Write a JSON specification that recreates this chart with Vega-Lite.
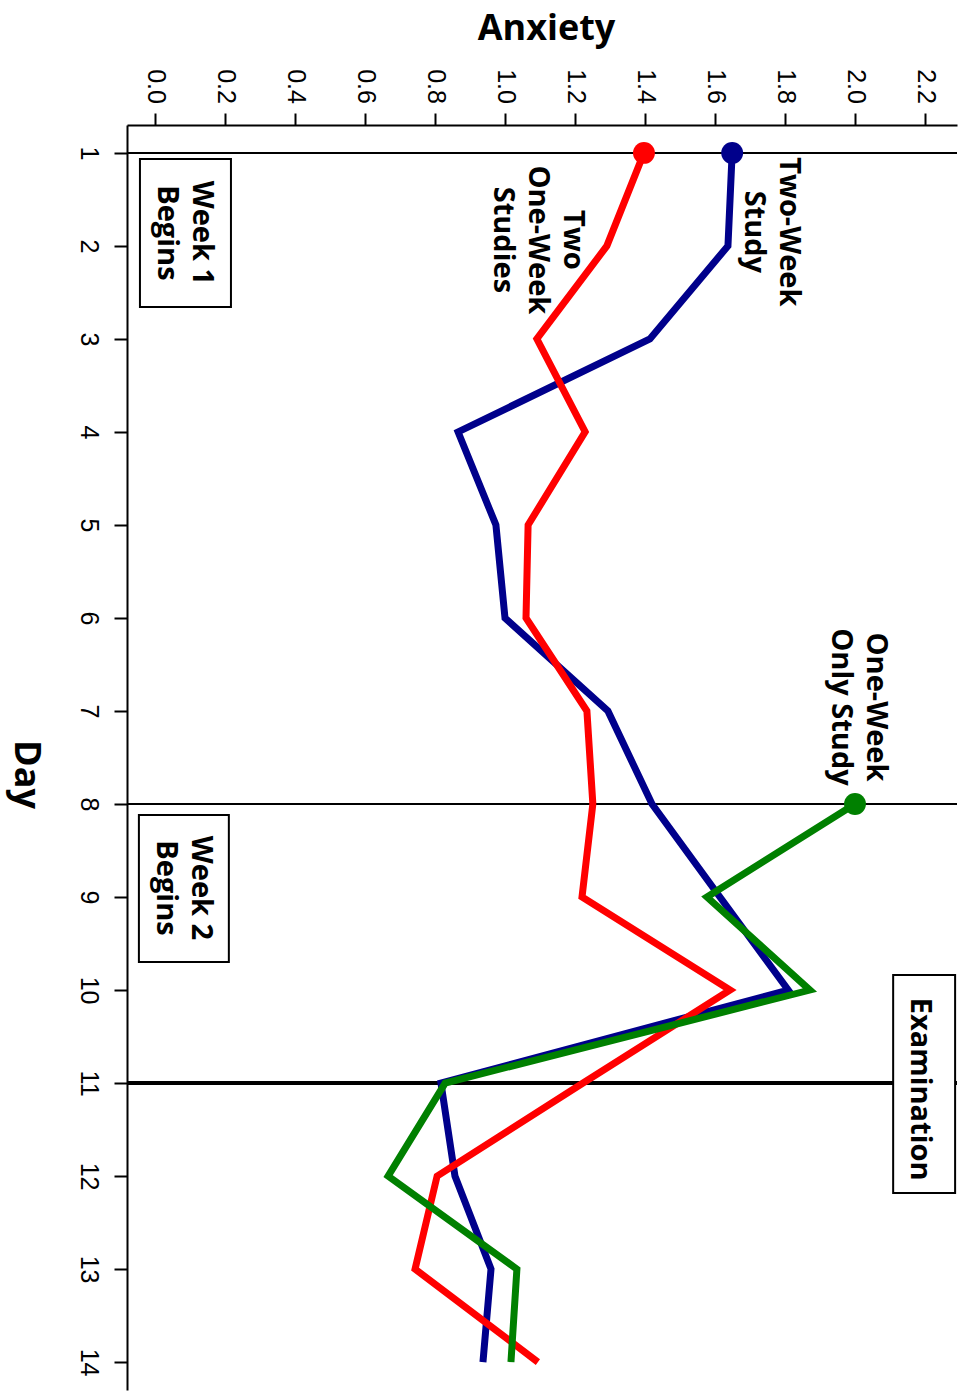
{
  "$schema": "https://vega.github.io/schema/vega-lite/v6.json",
  "width": 830,
  "height": 1265,
  "autosize": {"type": "none"},
  "padding": {"left": 127, "top": 125, "right": 2, "bottom": 5},
  "background": "white",
  "config": {
    "view": {"stroke": null},
    "axis": {
      "grid": false,
      "labelAngle": 90, "labelAlign": "center", "labelBaseline": "middle",
      "labelFont": "Liberation Sans", "labelFontSize": 25, "labelColor": "black",
      "labelOverlap": false, "labelFlush": false, "labelBound": false,
      "tickWidth": 2, "tickColor": "black",
      "domainColor": "black", "domainWidth": 2,
      "titleFont": "Open Sans", "titleFontSize": 36, "titleFontWeight": "bold", "titleColor": "black",
      "titleAlign": "center", "titleBaseline": "alphabetic"
    },
    "axisX": {"labelPadding": 27, "tickSize": 12, "titleAngle": 0, "titleX": 419, "titleY": -86},
    "axisY": {"labelPadding": 26, "tickSize": 13, "titleAngle": 90, "titleX": -113, "titleY": 649}
  },
  "datasets": {
    "series": [
      {"series": "Two-Week Study", "day": 1, "anxiety": 1.649},
      {"series": "Two-Week Study", "day": 2, "anxiety": 1.637},
      {"series": "Two-Week Study", "day": 3, "anxiety": 1.414},
      {"series": "Two-Week Study", "day": 4, "anxiety": 0.866},
      {"series": "Two-Week Study", "day": 5, "anxiety": 0.974},
      {"series": "Two-Week Study", "day": 6, "anxiety": 1.0},
      {"series": "Two-Week Study", "day": 7, "anxiety": 1.294},
      {"series": "Two-Week Study", "day": 8, "anxiety": 1.42},
      {"series": "Two-Week Study", "day": 9, "anxiety": 1.614},
      {"series": "Two-Week Study", "day": 10, "anxiety": 1.809},
      {"series": "Two-Week Study", "day": 11, "anxiety": 0.817},
      {"series": "Two-Week Study", "day": 12, "anxiety": 0.857},
      {"series": "Two-Week Study", "day": 13, "anxiety": 0.96},
      {"series": "Two-Week Study", "day": 14, "anxiety": 0.937},
      {"series": "Two One-Week Studies", "day": 1, "anxiety": 1.397},
      {"series": "Two One-Week Studies", "day": 2, "anxiety": 1.291},
      {"series": "Two One-Week Studies", "day": 3, "anxiety": 1.091},
      {"series": "Two One-Week Studies", "day": 4, "anxiety": 1.229},
      {"series": "Two One-Week Studies", "day": 5, "anxiety": 1.066},
      {"series": "Two One-Week Studies", "day": 6, "anxiety": 1.06},
      {"series": "Two One-Week Studies", "day": 7, "anxiety": 1.234},
      {"series": "Two One-Week Studies", "day": 8, "anxiety": 1.251},
      {"series": "Two One-Week Studies", "day": 9, "anxiety": 1.22},
      {"series": "Two One-Week Studies", "day": 10, "anxiety": 1.643},
      {"series": "Two One-Week Studies", "day": 11, "anxiety": 1.223},
      {"series": "Two One-Week Studies", "day": 12, "anxiety": 0.806},
      {"series": "Two One-Week Studies", "day": 13, "anxiety": 0.743},
      {"series": "Two One-Week Studies", "day": 14, "anxiety": 1.094},
      {"series": "One-Week Only Study", "day": 8, "anxiety": 2.0},
      {"series": "One-Week Only Study", "day": 9, "anxiety": 1.577},
      {"series": "One-Week Only Study", "day": 10, "anxiety": 1.871},
      {"series": "One-Week Only Study", "day": 11, "anxiety": 0.829},
      {"series": "One-Week Only Study", "day": 12, "anxiety": 0.666},
      {"series": "One-Week Only Study", "day": 13, "anxiety": 1.034},
      {"series": "One-Week Only Study", "day": 14, "anxiety": 1.017}
    ],
    "refs": [
      {"day": 1, "kind": "week"},
      {"day": 8, "kind": "week"},
      {"day": 11, "kind": "exam"}
    ],
    "boxes": [
      {"box": "Week 1", "anxiety": -0.043, "anxiety2": 0.217, "day": 1.065, "day2": 2.656},
      {"box": "Week 2", "anxiety": -0.046, "anxiety2": 0.211, "day": 8.118, "day2": 9.699},
      {"box": "Examination", "anxiety": 2.109, "anxiety2": 2.286, "day": 9.839, "day2": 12.183}
    ],
    "annot": [
      {"label": "Week 1\nBegins", "anxiety": 0.134, "day": 1.86},
      {"label": "Week 2\nBegins", "anxiety": 0.131, "day": 8.903},
      {"label": "Two-Week\nStudy", "anxiety": 1.811, "day": 1.849},
      {"label": "Two\nOne-Week\nStudies", "anxiety": 1.194, "day": 1.935},
      {"label": "One-Week\nOnly Study", "anxiety": 2.06, "day": 6.957},
      {"label": "Examination", "anxiety": 2.186, "day": 11.065}
    ]
  },
  "layer": [
    {
      "data": {"name": "refs"},
      "transform": [{"filter": "datum.kind === 'week'"}],
      "mark": {"type": "rule", "color": "black", "strokeWidth": 2},
      "encoding": {
        "y": {"field": "day", "type": "quantitative", "scale": {"domain": [0.7, 14.3], "nice": false, "zero": false, "reverse": true}, "axis": {"orient": "left", "title": "Day", "values": [1, 2, 3, 4, 5, 6, 7, 8, 9, 10, 11, 12, 13, 14], "format": "d"}}
      }
    },
    {
      "data": {"name": "refs"},
      "transform": [{"filter": "datum.kind === 'exam'"}],
      "mark": {"type": "rule", "color": "black", "strokeWidth": 4},
      "encoding": {
        "y": {"field": "day", "type": "quantitative", "scale": {"domain": [0.7, 14.3], "nice": false, "zero": false, "reverse": true}, "axis": {"orient": "left", "title": "Day", "values": [1, 2, 3, 4, 5, 6, 7, 8, 9, 10, 11, 12, 13, 14], "format": "d"}}
      }
    },
    {
      "data": {"name": "boxes"},
      "mark": {"type": "rect", "fill": "white", "stroke": "black", "strokeWidth": 2},
      "encoding": {
        "x": {"field": "anxiety", "type": "quantitative", "scale": {"domain": [-0.08, 2.2914], "nice": false, "zero": false}, "axis": {"orient": "top", "title": "Anxiety", "values": [0, 0.2, 0.4, 0.6, 0.8, 1, 1.2, 1.4, 1.6, 1.8, 2, 2.2], "format": ".1f"}},
        "x2": {"field": "anxiety2"},
        "y": {"field": "day", "type": "quantitative", "scale": {"domain": [0.7, 14.3], "nice": false, "zero": false, "reverse": true}, "axis": {"orient": "left", "title": "Day", "values": [1, 2, 3, 4, 5, 6, 7, 8, 9, 10, 11, 12, 13, 14], "format": "d"}},
        "y2": {"field": "day2"}
      }
    },
    {
      "data": {"name": "series"},
      "transform": [{"filter": "datum.series === 'Two-Week Study'"}],
      "mark": {"type": "line", "strokeWidth": 7, "strokeJoin": "miter", "color": "#00008B"},
      "encoding": {
        "x": {"field": "anxiety", "type": "quantitative", "scale": {"domain": [-0.08, 2.2914], "nice": false, "zero": false}, "axis": {"orient": "top", "title": "Anxiety", "values": [0, 0.2, 0.4, 0.6, 0.8, 1, 1.2, 1.4, 1.6, 1.8, 2, 2.2], "format": ".1f"}},
        "y": {"field": "day", "type": "quantitative", "scale": {"domain": [0.7, 14.3], "nice": false, "zero": false, "reverse": true}, "axis": {"orient": "left", "title": "Day", "values": [1, 2, 3, 4, 5, 6, 7, 8, 9, 10, 11, 12, 13, 14], "format": "d"}},
        "order": {"field": "day"}
      }
    },
    {
      "data": {"name": "series"},
      "transform": [{"filter": "datum.series === 'Two One-Week Studies'"}],
      "mark": {"type": "line", "strokeWidth": 7, "strokeJoin": "miter", "color": "#FF0000"},
      "encoding": {
        "x": {"field": "anxiety", "type": "quantitative", "scale": {"domain": [-0.08, 2.2914], "nice": false, "zero": false}, "axis": {"orient": "top", "title": "Anxiety", "values": [0, 0.2, 0.4, 0.6, 0.8, 1, 1.2, 1.4, 1.6, 1.8, 2, 2.2], "format": ".1f"}},
        "y": {"field": "day", "type": "quantitative", "scale": {"domain": [0.7, 14.3], "nice": false, "zero": false, "reverse": true}, "axis": {"orient": "left", "title": "Day", "values": [1, 2, 3, 4, 5, 6, 7, 8, 9, 10, 11, 12, 13, 14], "format": "d"}},
        "order": {"field": "day"}
      }
    },
    {
      "data": {"name": "series"},
      "transform": [{"filter": "datum.series === 'One-Week Only Study'"}],
      "mark": {"type": "line", "strokeWidth": 7, "strokeJoin": "miter", "color": "#008000"},
      "encoding": {
        "x": {"field": "anxiety", "type": "quantitative", "scale": {"domain": [-0.08, 2.2914], "nice": false, "zero": false}, "axis": {"orient": "top", "title": "Anxiety", "values": [0, 0.2, 0.4, 0.6, 0.8, 1, 1.2, 1.4, 1.6, 1.8, 2, 2.2], "format": ".1f"}},
        "y": {"field": "day", "type": "quantitative", "scale": {"domain": [0.7, 14.3], "nice": false, "zero": false, "reverse": true}, "axis": {"orient": "left", "title": "Day", "values": [1, 2, 3, 4, 5, 6, 7, 8, 9, 10, 11, 12, 13, 14], "format": "d"}},
        "order": {"field": "day"}
      }
    },
    {
      "data": {"name": "series"},
      "transform": [
        {"joinaggregate": [{"op": "min", "field": "day", "as": "firstDay"}], "groupby": ["series"]},
        {"filter": "datum.day === datum.firstDay"}
      ],
      "mark": {"type": "circle", "size": 480, "opacity": 1},
      "encoding": {
        "x": {"field": "anxiety", "type": "quantitative", "scale": {"domain": [-0.08, 2.2914], "nice": false, "zero": false}, "axis": {"orient": "top", "title": "Anxiety", "values": [0, 0.2, 0.4, 0.6, 0.8, 1, 1.2, 1.4, 1.6, 1.8, 2, 2.2], "format": ".1f"}},
        "y": {"field": "day", "type": "quantitative", "scale": {"domain": [0.7, 14.3], "nice": false, "zero": false, "reverse": true}, "axis": {"orient": "left", "title": "Day", "values": [1, 2, 3, 4, 5, 6, 7, 8, 9, 10, 11, 12, 13, 14], "format": "d"}},
        "color": {
          "field": "series", "type": "nominal",
          "scale": {"domain": ["Two-Week Study", "Two One-Week Studies", "One-Week Only Study"], "range": ["#00008B", "#FF0000", "#008000"]},
          "legend": null
        }
      }
    },
    {
      "data": {"name": "annot"},
      "mark": {"type": "text", "font": "Open Sans", "fontWeight": "bold", "fontSize": 29, "angle": 90, "align": "center", "baseline": "middle", "lineBreak": "\n", "lineHeight": 35, "color": "black"},
      "encoding": {
        "x": {"field": "anxiety", "type": "quantitative", "scale": {"domain": [-0.08, 2.2914], "nice": false, "zero": false}, "axis": {"orient": "top", "title": "Anxiety", "values": [0, 0.2, 0.4, 0.6, 0.8, 1, 1.2, 1.4, 1.6, 1.8, 2, 2.2], "format": ".1f"}},
        "y": {"field": "day", "type": "quantitative", "scale": {"domain": [0.7, 14.3], "nice": false, "zero": false, "reverse": true}, "axis": {"orient": "left", "title": "Day", "values": [1, 2, 3, 4, 5, 6, 7, 8, 9, 10, 11, 12, 13, 14], "format": "d"}},
        "text": {"field": "label"}
      }
    }
  ]
}
